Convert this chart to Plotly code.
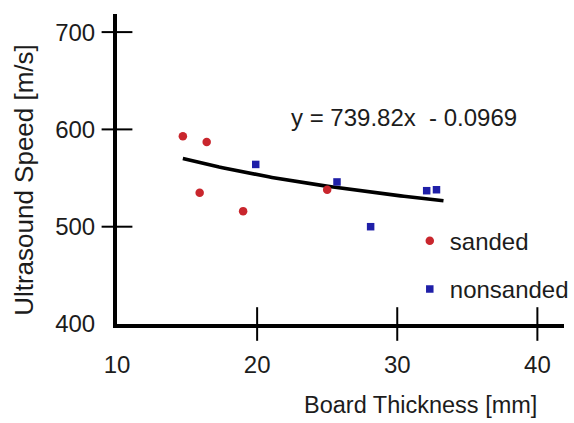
import numpy as np
import plotly.graph_objects as go

# ---- data ----
sanded_x = [14.7, 16.4, 15.9, 19.0, 25.0]
sanded_y = [593, 587, 535, 516, 538]

nonsanded_x = [19.9, 25.7, 28.1, 32.1, 32.8]
nonsanded_y = [564, 546, 500, 537, 538]

# power trend shown on the chart: y = 739.82 * x^-0.0969
trend_a = 739.82
trend_b = -0.0969
trend_x_start = 14.7
trend_x_end = 33.3
trend_label = "y = 739.82x  - 0.0969"

x_ticks = [10, 20, 30, 40]
y_ticks = [400, 500, 600, 700]

x_title = "Board Thickness [mm]"
y_title = "Ultrasound Speed [m/s]"

# ---- styling ----
FONT = "Arial, 'Liberation Sans', sans-serif"
TXT = "#1c1c1c"
RED = "#c9262d"
BLUE = "#1f1fa8"

X_RANGE = [10, 41.9]
Y_RANGE = [400, 718.6]

trend_x = np.linspace(trend_x_start, trend_x_end, 80)
trend_y = trend_a * trend_x ** trend_b

fig = go.Figure()

fig.add_trace(go.Scatter(
    x=trend_x, y=trend_y, mode="lines",
    line=dict(color="black", width=3.6),
    showlegend=False, hoverinfo="skip",
))

fig.add_trace(go.Scatter(
    x=sanded_x, y=sanded_y, mode="markers", name="sanded",
    marker=dict(symbol="circle", size=8.5, color=RED),
    legendgroup="a",
))
fig.add_trace(go.Scatter(
    x=nonsanded_x, y=nonsanded_y, mode="markers", name="nonsanded",
    marker=dict(symbol="square", size=7.5, color=BLUE),
    legendgroup="b",
))

# crossing tick marks drawn on the axes
fig.add_trace(go.Scatter(
    x=x_ticks[1:], y=[y_ticks[0]] * (len(x_ticks) - 1), mode="markers",
    marker=dict(symbol="line-ns", size=24, line=dict(color="black", width=2)),
    cliponaxis=False, showlegend=False, hoverinfo="skip",
))
fig.add_trace(go.Scatter(
    x=[x_ticks[0]] * (len(y_ticks) - 1), y=y_ticks[1:], mode="markers",
    marker=dict(symbol="line-ew", size=22, line=dict(color="black", width=2)),
    cliponaxis=False, showlegend=False, hoverinfo="skip",
))

axis_common = dict(
    showline=True, linecolor="black", linewidth=4,
    showgrid=False, zeroline=False, ticks="",
    tickfont=dict(family=FONT, size=24, color=TXT),
)

fig.update_layout(
    width=574, height=423,
    margin=dict(l=117, r=0, t=14, b=99),
    paper_bgcolor="white", plot_bgcolor="white",
    font=dict(family=FONT, color=TXT),
    xaxis=dict(range=X_RANGE, tickvals=x_ticks, ticklabelstandoff=16, **axis_common),
    yaxis=dict(range=Y_RANGE, tickvals=y_ticks, ticklabelstandoff=13, **axis_common),
    showlegend=True,
    legend=dict(
        x=0.655, y=0.34, xanchor="left", yanchor="top",
        font=dict(family=FONT, size=24, color=TXT),
        bgcolor="rgba(0,0,0,0)", tracegroupgap=14, itemwidth=30,
    ),
    annotations=[
        dict(text=trend_label, xref="paper", yref="paper", x=0.641, y=0.665,
             xanchor="center", yanchor="middle", showarrow=False,
             font=dict(family=FONT, size=24, color=TXT)),
        dict(text=x_title, xref="paper", yref="paper", x=0.68, y=-0.261,
             xanchor="center", yanchor="middle", showarrow=False,
             font=dict(family=FONT, size=23.5, color=TXT)),
        dict(text=y_title, xref="paper", yref="paper", x=-0.208, y=0.465,
             xanchor="center", yanchor="middle", showarrow=False, textangle=-90,
             font=dict(family=FONT, size=26, color=TXT)),
    ],
)

fig.write_html("out.html")
